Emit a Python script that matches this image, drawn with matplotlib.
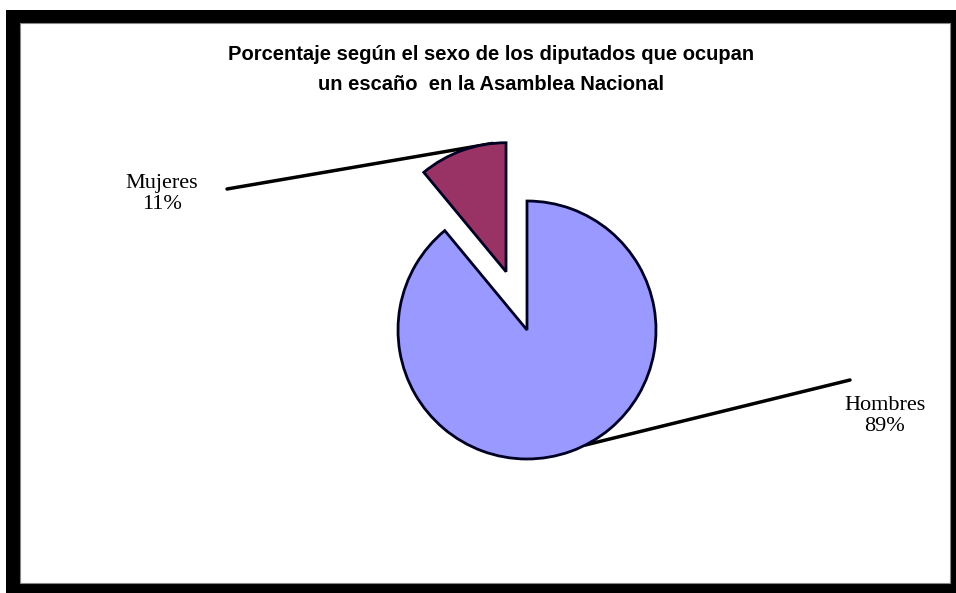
import numpy as np
import matplotlib
matplotlib.use('Agg')
import matplotlib.pyplot as plt
from matplotlib.patches import Rectangle

labels = ['Hombres', 'Mujeres']
values = [89, 11]
colors = ['#9999FF', '#993366']
explode_frac = [0, 0.48]       # fraction of the radius
anchor_angles = [-63, 96]      # where leader lines touch the slices
label_pos = [(885, 177), (162, 399)]
line_start = [(850, 213), (227, 404)]

title = 'Porcentaje según el sexo de los diputados que ocupan\nun escaño  en la Asamblea Nacional'

W, H = 956, 593
fig = plt.figure(figsize=(W / 100, H / 100), dpi=100)
fig.patch.set_facecolor('white')

# black frame
fig.patches.append(Rectangle((6 / W, 0), 950 / W, 583 / H, transform=fig.transFigure,
                             facecolor='black', edgecolor='none', zorder=-2))
fig.patches.append(Rectangle((20 / W, 10 / H), 930 / W, 560 / H, transform=fig.transFigure,
                             facecolor='white', edgecolor='#888888', lw=0.8, zorder=-1))

ax = fig.add_axes([0, 0, 1, 1])
ax.set_zorder(2)
ax.patch.set_alpha(0)

cx, cy, r = 527, 263, 129
# pie's explode is in data units, so scale by the radius
wedges, _ = ax.pie(values, colors=colors, explode=[e * r for e in explode_frac],
                   startangle=90, counterclock=False, center=(cx, cy), radius=r,
                   wedgeprops=dict(edgecolor='#000022', linewidth=2))

ax.set_xlim(0, W)
ax.set_ylim(0, H)
ax.set_aspect('auto')
ax.axis('off')

for w, lab, val, ang, pos, st in zip(wedges, labels, values, anchor_angles, label_pos, line_start):
    ex, ey = w.center
    a = np.deg2rad(ang)
    px, py = ex + r * np.cos(a), ey + r * np.sin(a)
    ax.plot([st[0], px], [st[1], py], color='black', lw=2.5, solid_capstyle='round', zorder=0)
    ax.text(pos[0], pos[1], '%s\n%d%%' % (lab, val), ha='center', va='center',
            family='Liberation Serif', fontsize=16, linespacing=1.2)

fig.text(491 / W, 1 - 69.5 / H, title, ha='center', va='center', fontweight='bold',
         family='Liberation Sans', fontsize=14.5, linespacing=1.72, zorder=3)

fig.savefig('out.png', dpi=100)
